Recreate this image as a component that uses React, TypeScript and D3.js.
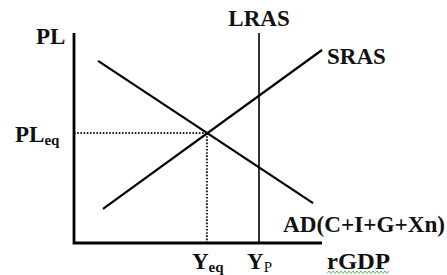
import { useEffect, useRef } from "react";
import * as d3 from "d3";

// curve end points in chart units (0..100 on both axes)
const srasX = [11.7, 100];
const srasY = [16.2, 91.9];
const adX = [9.7, 96.4];
const adY = [86.7, 19.0];
const lrasX = 74.6;
const lrasY = [0, 100];
const eqX = 53.6;
const eqY = 52.4;

const W = 447;
const H = 275;
const FONT = "Liberation Serif, Times New Roman, serif";

export default function App() {
  const ref = useRef<SVGSVGElement | null>(null);

  useEffect(() => {
    if (!ref.current) return;
    const svg = d3.select(ref.current);
    svg.selectAll("*").remove();

    const x = d3.scaleLinear().domain([0, 100]).range([74, 322]);
    const y = d3.scaleLinear().domain([0, 100]).range([243, 33]);

    const line = d3
      .line<[number, number]>()
      .x(d => x(d[0]))
      .y(d => y(d[1]));

    /* ---------------- DOTTED GUIDES ---------------- */

    svg.append("path")
      .attr("d", line([[0, eqY], [eqX, eqY]]))
      .attr("stroke", "#222")
      .attr("stroke-width", 2)
      .attr("stroke-dasharray", "1.6 1.6")
      .attr("fill", "none");

    svg.append("path")
      .attr("d", line([[eqX, eqY], [eqX, 0]]))
      .attr("stroke", "#222")
      .attr("stroke-width", 2)
      .attr("stroke-dasharray", "1.6 1.6")
      .attr("fill", "none");

    /* ---------------- CURVES ---------------- */

    svg.append("path")
      .attr("d", line([[srasX[0], srasY[0]], [srasX[1], srasY[1]]]))
      .attr("stroke", "#000")
      .attr("stroke-width", 2.2)
      .attr("fill", "none");

    svg.append("path")
      .attr("d", line([[adX[0], adY[0]], [adX[1], adY[1]]]))
      .attr("stroke", "#000")
      .attr("stroke-width", 2.2)
      .attr("fill", "none");

    svg.append("path")
      .attr("d", line([[lrasX, lrasY[0]], [lrasX, lrasY[1]]]))
      .attr("stroke", "#000")
      .attr("stroke-width", 1.6)
      .attr("fill", "none");

    /* ---------------- AXES ---------------- */

    svg.append("path")
      .attr("d", line([[0, 100], [0, 0], [100, 0]]))
      .attr("stroke", "#000")
      .attr("stroke-width", 2.8)
      .attr("fill", "none");

    /* ---------------- LABELS ---------------- */

    const label = (tx: number, ty: number, anchor = "start") =>
      svg.append("text")
        .attr("x", tx)
        .attr("y", ty)
        .attr("text-anchor", anchor)
        .attr("font-family", FONT)
        .attr("font-weight", "bold")
        .attr("font-size", 23)
        .attr("fill", "#111");

    label(36, 44).text("PL");
    label(x(lrasX), 26, "middle").text("LRAS");
    label(x(srasX[1]) + 5, 64).text("SRAS");
    label(283, 232).attr("textLength", 162).attr("lengthAdjust", "spacingAndGlyphs").text("AD(C+I+G+Xn)");

    const sub = (sel: d3.Selection<SVGTextElement, unknown, null, undefined>, main: string, s: string, bold = true) => {
      sel.append("tspan").text(main);
      sel.append("tspan")
        .attr("font-size", 15)
        .attr("font-weight", bold ? "bold" : "normal")
        .attr("dy", 3)
        .text(s);
    };

    sub(label(15, y(eqY) + 9), "PL", "eq");
    sub(label(x(eqX) - 15, 269), "Y", "eq");
    sub(label(x(lrasX) - 12, 269), "Y", "P", false);

    label(327, 269).attr("textLength", 63).attr("lengthAdjust", "spacingAndGlyphs").text("rGDP");

    // spell-check squiggle under rGDP
    const pts: [number, number][] = d3.range(327, 391, 2).map((px, i) => [px, i % 2 ? 271 : 273.5]);
    svg.append("path")
      .attr("d", d3.line()(pts))
      .attr("stroke", "#5cb85c")
      .attr("stroke-width", 1)
      .attr("fill", "none");
  }, []);

  return (
    <svg
      ref={ref}
      width={W}
      height={H}
      style={{ position: "absolute", left: 0, top: 0, background: "#fff" }}
    />
  );
}
